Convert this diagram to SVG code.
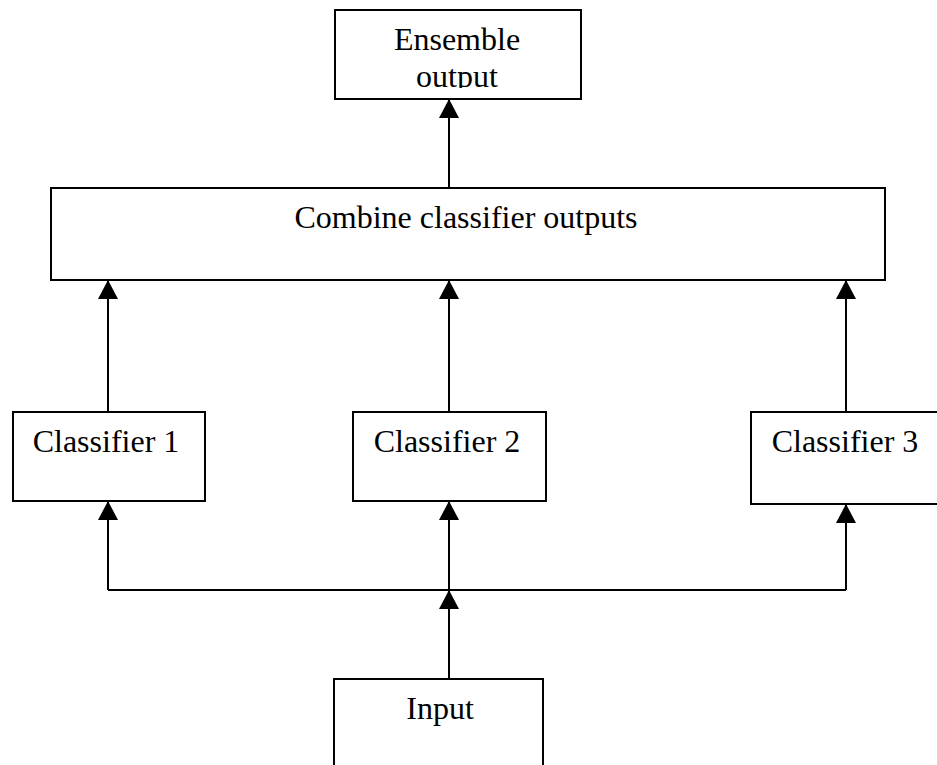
<svg xmlns="http://www.w3.org/2000/svg" width="937" height="765" viewBox="0 0 937 765">
<style>
.box{fill:#fff;stroke:#000;stroke-width:2}
.lbl{font-family:"Liberation Serif","Times New Roman",serif;font-size:32px;fill:#000;text-anchor:middle}
.ln{fill:none;stroke:#000;stroke-width:2}
</style>
<defs>
<clipPath id="ensClip"><rect x="335" y="10" width="246" height="78"/></clipPath>
</defs>
<rect width="937" height="765" fill="#fff"/>
<g id="connectors">
<line class="ln" x1="449" y1="188" x2="449" y2="100"/>
<line class="ln" x1="108" y1="412" x2="108" y2="281"/>
<line class="ln" x1="449" y1="412" x2="449" y2="281"/>
<line class="ln" x1="846" y1="412" x2="846" y2="281"/>
<line class="ln" x1="108" y1="590" x2="108" y2="502"/>
<line class="ln" x1="449" y1="590" x2="449" y2="502"/>
<line class="ln" x1="846" y1="590" x2="846" y2="505"/>
<polyline class="ln" points="108,590 846,590"/>
<line class="ln" x1="449" y1="679" x2="449" y2="591"/>
<g fill="#000">
<path d="M449,99 L439,118 L459,118 Z"/>
<path d="M108,280 L98,299 L118,299 Z"/>
<path d="M449,280 L439,299 L459,299 Z"/>
<path d="M846,280 L836,299 L856,299 Z"/>
<path d="M108,501 L98,520 L118,520 Z"/>
<path d="M449,501 L439,520 L459,520 Z"/>
<path d="M846,504 L836,523 L856,523 Z"/>
<path d="M449,590 L439,609 L459,609 Z"/>
</g>
</g>
<g id="ensemble">
<rect class="box" x="335" y="10" width="246" height="89"/>
<g clip-path="url(#ensClip)">
<text class="lbl" x="457" y="50">Ensemble</text>
<text class="lbl" x="457" y="87">output</text>
</g>
</g>
<g id="combine">
<rect class="box" x="51" y="188" width="834" height="92"/>
<text class="lbl" x="466" y="228">Combine classifier outputs</text>
</g>
<g id="classifier1">
<rect class="box" x="13" y="412" width="192" height="89"/>
<text class="lbl" x="106" y="452">Classifier 1</text>
</g>
<g id="classifier2">
<rect class="box" x="353" y="412" width="193" height="89"/>
<text class="lbl" x="447" y="452">Classifier 2</text>
</g>
<g id="classifier3">
<rect class="box" x="751" y="412" width="200" height="92"/>
<text class="lbl" x="845" y="452">Classifier 3</text>
</g>
<g id="input">
<rect class="box" x="334" y="679" width="209" height="100"/>
<text class="lbl" x="440" y="719">Input</text>
</g>
</svg>
